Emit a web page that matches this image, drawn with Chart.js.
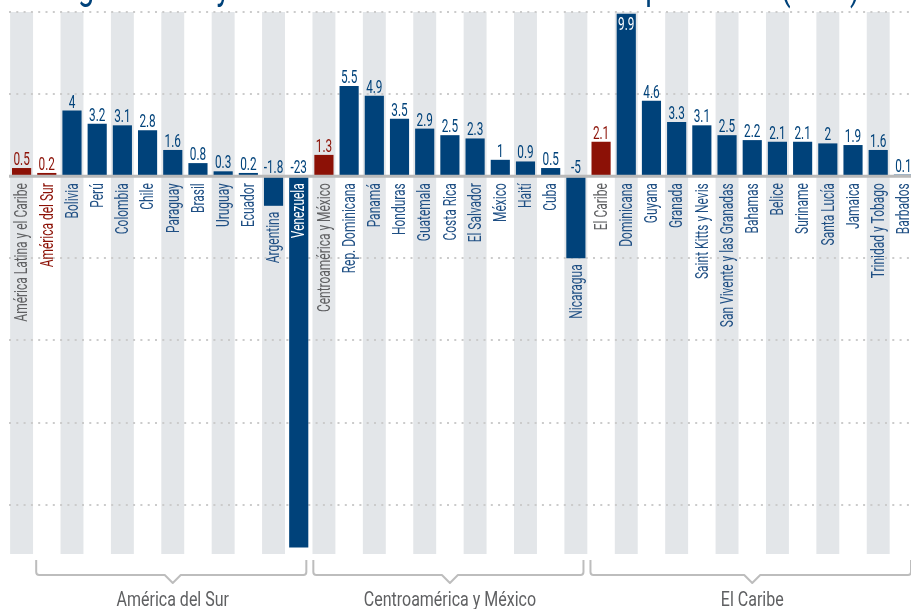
<!DOCTYPE html>
<html>
<head>
<meta charset="utf-8">
<script src="https://cdn.jsdelivr.net/npm/chart.js@4.4.0/dist/chart.umd.min.js"></script>
<style>
  html, body { margin: 0; padding: 0; background: #ffffff; overflow: hidden; }
  #wrap { position: absolute; left: 0; top: 0; width: 920px; height: 609px; }
</style>
</head>
<body>
<div id="wrap"><canvas id="c"></canvas></div>
<script>
const titleText = 'Figura 1. Proyecciones de crecimiento del PIB para 2018 (en %)';

const categories = [
  'América Latina y el Caribe', 'América del Sur', 'Bolivia', 'Perú', 'Colombia', 'Chile',
  'Paraguay', 'Brasil', 'Uruguay', 'Ecuador', 'Argentina', 'Venezuela',
  'Centroamérica y México', 'Rep. Dominicana', 'Panamá', 'Honduras', 'Guatemala', 'Costa Rica',
  'El Salvador', 'México', 'Haití', 'Cuba', 'Nicaragua',
  'El Caribe', 'Dominicana', 'Guyana', 'Granada', 'Saint Kitts y Nevis', 'San Vivente y las Granadas',
  'Bahamas', 'Belice', 'Suriname', 'Santa Lucía', 'Jamaica', 'Trinidad y Tobago', 'Barbados'
];

const growth = [
  0.5, 0.2, 4, 3.2, 3.1, 2.8,
  1.6, 0.8, 0.3, 0.2, -1.8, -22.6,
  1.3, 5.5, 4.9, 3.5, 2.9, 2.5,
  2.3, 1, 0.9, 0.5, -5,
  2.1, 9.9, 4.6, 3.3, 3.1, 2.5,
  2.2, 2.1, 2.1, 2, 1.9, 1.6, 0.1
];

const growthLabels = [
  '0.5', '0.2', '4', '3.2', '3.1', '2.8',
  '1.6', '0.8', '0.3', '0.2', '-1.8', '-23',
  '1.3', '5.5', '4.9', '3.5', '2.9', '2.5',
  '2.3', '1', '0.9', '0.5', '-5',
  '2.1', '9.9', '4.6', '3.3', '3.1', '2.5',
  '2.2', '2.1', '2.1', '2', '1.9', '1.6', '0.1'
];

const aggregates = ['América Latina y el Caribe', 'América del Sur', 'Centroamérica y México', 'El Caribe'];
const redLabelAggregates = ['América del Sur'];

const groupNames = ['América del Sur', 'Centroamérica y México', 'El Caribe'];
const groupFirst = ['América del Sur', 'Centroamérica y México', 'El Caribe'];
const groupLast = ['Venezuela', 'Nicaragua', 'Barbados'];

const yTicks = [10, 5, 0, -5, -10, -15, -20];
const yMin = -23, yMax = 10;

const BLUE = '#00427a';
const RED = '#8c1106';
const TEXT_BLUE = '#1f4f84';
const GRAY_TEXT = '#5f6062';
const STRIPE = '#e3e6e9';
const FONT = 'Roboto, "Liberation Sans", sans-serif';

function vtext(ctx, text, x, y, sx) {
  ctx.save();
  ctx.translate(x, y);
  ctx.rotate(-Math.PI / 2);
  ctx.scale(sx, 1);
  ctx.textAlign = 'right';
  ctx.textBaseline = 'middle';
  ctx.fillText(text, 0, 0);
  ctx.restore();
}
function htext(ctx, text, x, y, sx, baseline) {
  ctx.save();
  ctx.translate(x, y);
  ctx.scale(sx, 1);
  ctx.textAlign = 'center';
  ctx.textBaseline = baseline || 'alphabetic';
  ctx.fillText(text, 0, 0);
  ctx.restore();
}

const decor = {
  id: 'decor',
  beforeDraw(chart) {
    const ctx = chart.ctx;
    const xs = chart.scales.x, ys = chart.scales.y;
    const ca = chart.chartArea;
    const w = xs.getPixelForValue(1) - xs.getPixelForValue(0);
    ctx.save();
    ctx.fillStyle = STRIPE;
    categories.forEach((c, i) => {
      if (i % 2 === 0) {
        const cx = xs.getPixelForValue(i);
        ctx.fillRect(cx - w * 0.455, ys.getPixelForValue(yMax), w * 0.91, ca.bottom - ys.getPixelForValue(yMax));
      }
    });
    // title (cut off at top of picture)
    ctx.fillStyle = BLUE;
    ctx.font = '40px ' + FONT;
    const tw = ctx.measureText(titleText).width;
    const target = 805;
    ctx.save();
    ctx.translate(55, -1);
    ctx.scale(target / tw, 1);
    ctx.textAlign = 'left';
    ctx.textBaseline = 'alphabetic';
    ctx.fillText(titleText, 0, 0);
    ctx.restore();
    ctx.restore();
  },
  afterDatasetsDraw(chart) {
    const ctx = chart.ctx;
    const xs = chart.scales.x, ys = chart.scales.y;
    const ca = chart.chartArea;
    const w = xs.getPixelForValue(1) - xs.getPixelForValue(0);
    const zeroY = ys.getPixelForValue(0);
    // zero line
    ctx.save();
    ctx.strokeStyle = '#b9b9b9';
    ctx.lineWidth = 3;
    ctx.beginPath();
    ctx.moveTo(ca.left, zeroY);
    ctx.lineTo(chart.width, zeroY);
    ctx.stroke();

    const meta = chart.getDatasetMeta(0);
    meta.data.forEach((bar, i) => {
      const v = growth[i];
      const isAgg = aggregates.includes(categories[i]);
      const col = isAgg ? RED : BLUE;
      // value label
      ctx.font = '19px ' + FONT;
      if (v >= 0) {
        if (bar.y - 20 < ca.top) {
          ctx.fillStyle = '#ffffff';
          htext(ctx, growthLabels[i], bar.x, bar.y + 2, 0.62, 'top');
        } else {
          ctx.fillStyle = col;
          htext(ctx, growthLabels[i], bar.x, bar.y - 3, 0.62);
        }
      } else {
        ctx.fillStyle = col;
        htext(ctx, growthLabels[i], bar.x, zeroY - 3, 0.62);
      }
      // category label
      ctx.font = '19px ' + FONT;
      let ly, lc;
      if (isAgg) {
        lc = redLabelAggregates.includes(categories[i]) ? RED : GRAY_TEXT;
      } else {
        lc = TEXT_BLUE;
      }
      if (v >= 0) {
        ly = zeroY + 7;
      } else if (bar.y + 80 > ca.bottom) {
        ly = zeroY + 7;
        lc = '#ffffff';
      } else {
        ly = bar.y + 6;
      }
      ctx.fillStyle = lc;
      vtext(ctx, categories[i], bar.x + 1, ly, 0.63);
    });

    // group brackets
    ctx.strokeStyle = '#bdbdbd';
    ctx.lineWidth = 2;
    ctx.lineJoin = 'round';
    groupNames.forEach((g, k) => {
      const a = categories.indexOf(groupFirst[k]);
      const b = categories.indexOf(groupLast[k]);
      const left = xs.getPixelForValue(a) - w / 2 + 2;
      const right = xs.getPixelForValue(b) + w / 2 - 5;
      const mid = (xs.getPixelForValue(a) + xs.getPixelForValue(b)) / 2;
      const top = ca.bottom + 6, hy = ca.bottom + 21, r = 3;
      ctx.beginPath();
      ctx.moveTo(left, top);
      ctx.lineTo(left, hy - r);
      ctx.quadraticCurveTo(left, hy, left + r, hy);
      ctx.lineTo(mid - 8, hy);
      ctx.lineTo(mid, hy + 8);
      ctx.lineTo(mid + 8, hy);
      ctx.lineTo(right - r, hy);
      ctx.quadraticCurveTo(right, hy, right, hy - r);
      ctx.lineTo(right, top);
      ctx.stroke();
      ctx.fillStyle = GRAY_TEXT;
      ctx.font = '20px ' + FONT;
      htext(ctx, g, mid, ca.bottom + 52, 0.8);
    });
    ctx.restore();
  }
};

new Chart(document.getElementById('c'), {
  type: 'bar',
  data: {
    labels: categories,
    datasets: [{
      data: growth,
      backgroundColor: categories.map(c => aggregates.includes(c) ? RED : BLUE),
      borderWidth: 0,
      barPercentage: 0.76,
      categoryPercentage: 1.0
    }]
  },
  options: {
    responsive: true,
    maintainAspectRatio: false,
    animation: false,
    layout: { padding: { left: 9, right: 4, top: 12, bottom: 55 } },
    plugins: { legend: { display: false }, tooltip: { enabled: false }, title: { display: false } },
    scales: {
      x: { display: false },
      y: {
        min: yMin,
        max: yMax,
        afterBuildTicks(axis) { axis.ticks = yTicks.map(v => ({ value: v })); },
        ticks: { display: false },
        border: { display: false, dash: [2, 5.3] },
        grid: {
          drawTicks: false,
          lineWidth: 2,
          color: (c) => (c.tick && c.tick.value === 0) ? 'rgba(0,0,0,0)' : '#cbcbcb'
        }
      }
    }
  },
  plugins: [decor]
});
</script>
</body>
</html>
